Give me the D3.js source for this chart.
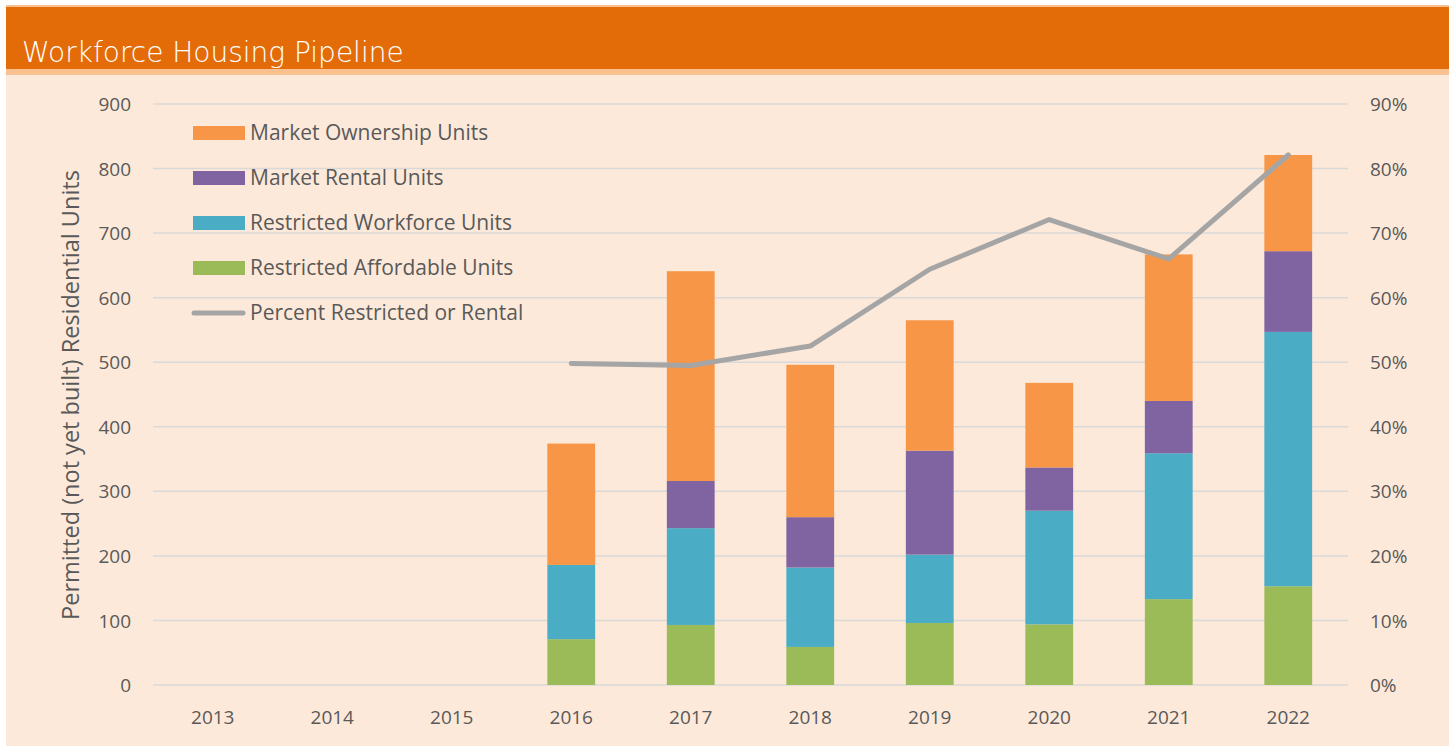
<!DOCTYPE html>
<html>
<head>
<meta charset="utf-8">
<script src="https://cdn.jsdelivr.net/npm/d3@7"></script>
<style>
  body { margin: 0; background: #fff; }
  svg { display: block; }
</style>
</head>
<body>
<script>
// data
var years = ["2013", "2014", "2015", "2016", "2017", "2018", "2019", "2020", "2021", "2022"]
var affordable = [0, 0, 0, 71, 93, 59, 96, 94, 133, 153]
var workforce = [0, 0, 0, 115, 150, 123, 106, 176, 226, 394]
var rental = [0, 0, 0, 0, 73, 78, 161, 67, 81, 125]
var ownership = [0, 0, 0, 188, 325, 236, 202, 131, 227, 149]
var pctYears = ["2016", "2017", "2018", "2019", "2020", "2021", "2022"]
var pctRestricted = [0.498, 0.495, 0.525, 0.644, 0.721, 0.66, 0.821]
var leftTicks = [0, 100, 200, 300, 400, 500, 600, 700, 800, 900]
var rightTicks = [0, 0.1, 0.2, 0.3, 0.4, 0.5, 0.6, 0.7, 0.8, 0.9]

var seriesKeys = ["affordable", "workforce", "rental", "ownership"]
var seriesNames = {
	ownership: "Market Ownership Units",
	rental: "Market Rental Units",
	workforce: "Restricted Workforce Units",
	affordable: "Restricted Affordable Units"
}
var colors = {
	affordable: "#9BBB59",
	workforce: "#4BACC6",
	rental: "#8064A2",
	ownership: "#F79646"
}

var W = 1449, H = 746
var svg = d3.select("body").append("svg").attr("width", W).attr("height", H)
var font = "'Open Sans', sans-serif"
var textCol = "#595959"

// page frame
svg.append("rect").attr("x", 6).attr("y", 5).attr("width", W - 6).attr("height", H - 5).attr("fill", "#FDE9D9")
svg.append("rect").attr("x", 6).attr("y", 5).attr("width", W - 6).attr("height", 70).attr("fill", "#FAC090")
svg.append("rect").attr("x", 6).attr("y", 7).attr("width", W - 6).attr("height", 62).attr("fill", "#E36C09")
svg.append("text")
	.attr("x", 22).attr("y", 62)
	.attr("fill", "#fff")
	.style("font-family", "'DejaVu Sans', sans-serif")
	.style("font-size", "28px")
	.style("font-weight", 200)
	.text("Workforce Housing Pipeline")

var m = { left: 153, right: W - 1348, top: 104, bottom: H - 685 }
var iw = W - m.left - m.right
var ih = H - m.top - m.bottom
var g = svg.append("g").attr("transform", "translate(" + m.left + "," + m.top + ")")

var x = d3.scaleBand().domain(years).range([0, iw]).paddingInner(0.6).paddingOuter(0.3)
var y = d3.scaleLinear().domain([0, 900]).range([ih, 0])
var y2 = d3.scaleLinear().domain([0, 0.9]).range([ih, 0])

// gridlines
g.selectAll(".grid").data(leftTicks).enter().append("line")
	.attr("x1", 0).attr("x2", iw)
	.attr("y1", function(d) { return y(d) }).attr("y2", function(d) { return y(d) })
	.attr("stroke", "#D9D9D9").attr("stroke-width", 1.5)

// axes
var yAxis = g.append("g").attr("transform", "translate(-22,0)")
	.call(d3.axisLeft(y).tickValues(leftTicks).tickSize(0).tickPadding(0))
var y2Axis = g.append("g").attr("transform", "translate(" + (iw + 22) + ",0)")
	.call(d3.axisRight(y2).tickValues(rightTicks).tickSize(0).tickPadding(0).tickFormat(d3.format(".0%")))
var xAxis = g.append("g").attr("transform", "translate(0," + (ih + 25) + ")")
	.call(d3.axisBottom(x).tickSize(0).tickPadding(0))
;[yAxis, y2Axis, xAxis].forEach(function(a) {
	a.select(".domain").remove()
	a.selectAll("text").attr("fill", textCol).style("font-family", font).style("font-size", "19px")
})
yAxis.selectAll("text").attr("dy", "0.35em")
y2Axis.selectAll("text").attr("dy", "0.35em")

svg.append("text")
	.attr("transform", "translate(79,395) rotate(-90)")
	.attr("text-anchor", "middle")
	.attr("fill", textCol)
	.style("font-family", font).style("font-size", "23.5px")
	.text("Permitted (not yet built) Residential Units")

// stacked bars
var table = years.map(function(yr, i) {
	return { year: yr, affordable: affordable[i], workforce: workforce[i], rental: rental[i], ownership: ownership[i] }
})
var stack = d3.stack().keys(seriesKeys)(table)
g.selectAll(".layer").data(stack).enter().append("g")
	.attr("fill", function(d) { return colors[d.key] })
	.selectAll("rect").data(function(d) { return d }).enter().append("rect")
	.attr("x", function(d) { return x(d.data.year) })
	.attr("y", function(d) { return y(d[1]) })
	.attr("width", x.bandwidth())
	.attr("height", function(d) { return y(d[0]) - y(d[1]) })

// percent line
var line = d3.line()
	.x(function(d, i) { return x(pctYears[i]) + x.bandwidth() / 2 })
	.y(function(d) { return y2(d) })
g.append("path").datum(pctRestricted)
	.attr("d", line)
	.attr("fill", "none")
	.attr("stroke", "#A5A5A5")
	.attr("stroke-width", 5)
	.attr("stroke-linecap", "round")
	.attr("stroke-linejoin", "round")

// legend
var legendItems = ["ownership", "rental", "workforce", "affordable", "line"]
var leg = svg.append("g").attr("transform", "translate(193,133)")
var li = leg.selectAll("g").data(legendItems).enter().append("g")
	.attr("transform", function(d, i) { return "translate(0," + i * 45 + ")" })
li.each(function(d) {
	var s = d3.select(this)
	if (d == "line") {
		s.append("line").attr("x1", 1).attr("x2", 50).attr("y1", 0).attr("y2", 0)
			.attr("stroke", "#A5A5A5").attr("stroke-width", 5).attr("stroke-linecap", "round")
	} else {
		s.append("rect").attr("x", 0).attr("y", -7).attr("width", 52).attr("height", 14).attr("fill", colors[d])
	}
	s.append("text").attr("x", 57).attr("dy", "0.35em")
		.attr("fill", textCol).style("font-family", font).style("font-size", "21px")
		.text(d == "line" ? "Percent Restricted or Rental" : seriesNames[d])
})
</script>
</body>
</html>
